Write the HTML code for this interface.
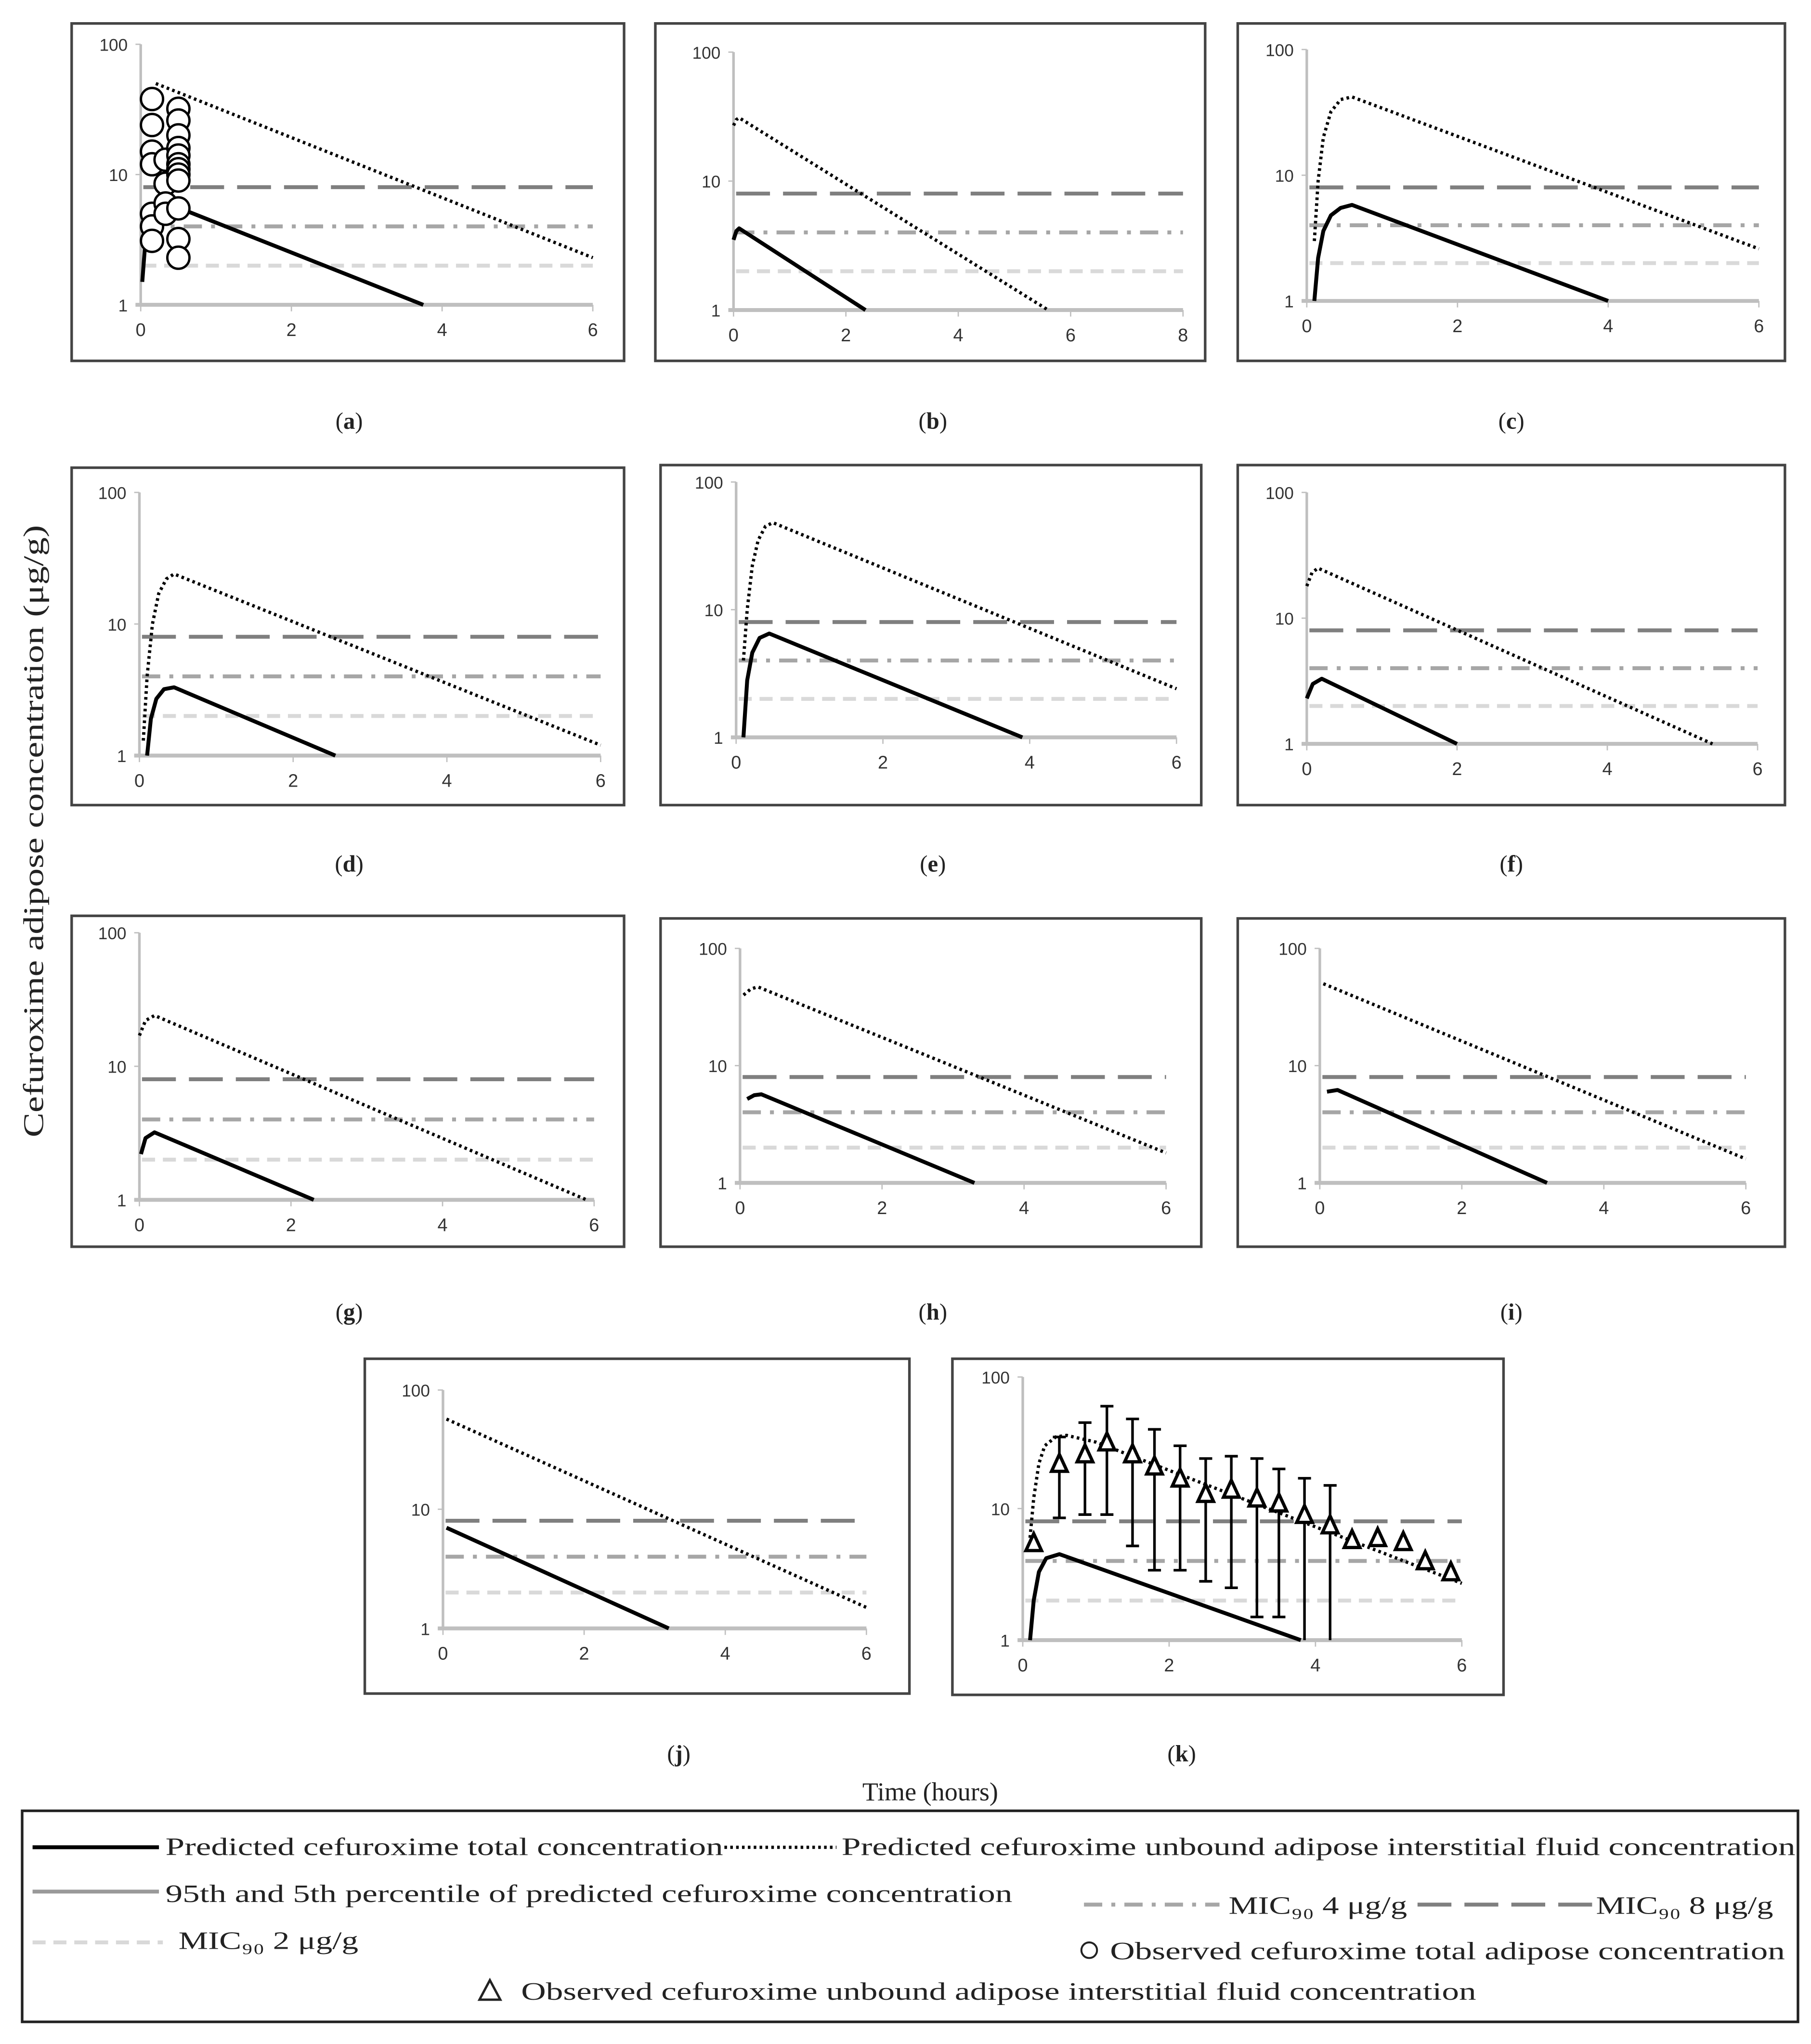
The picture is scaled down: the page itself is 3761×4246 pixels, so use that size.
<!DOCTYPE html>
<html><head><meta charset="utf-8"><style>html,body{margin:0;padding:0;background:#fff}svg{display:block}</style></head>
<body>
<svg id="fig" width="3761" height="4246" viewBox="0 0 1390 1569" preserveAspectRatio="none" xmlns="http://www.w3.org/2000/svg">
<text x="0" y="0" transform="translate(33,638) rotate(-90)" text-anchor="middle" font-family="Liberation Serif, serif" font-size="22" fill="#222" textLength="470" lengthAdjust="spacingAndGlyphs">Cefuroxime adipose concentration (μg/g)</text>
<text x="714" y="1382" text-anchor="middle" font-family="Liberation Serif, serif" font-size="20" fill="#222">Time (hours)</text>
<g font-family="Liberation Serif, serif" font-size="19" fill="#222">
<rect x="17" y="1390" width="1363" height="162" fill="none" stroke="#222" stroke-width="2"/>
<line x1="25" y1="1418" x2="122" y2="1418" stroke="#000" stroke-width="3"/>
<text x="127" y="1424" textLength="428" lengthAdjust="spacingAndGlyphs">Predicted cefuroxime total concentration</text>
<line x1="556" y1="1418" x2="642" y2="1418" stroke="#000" stroke-width="2.5" stroke-dasharray="2,2.5"/>
<text x="646" y="1424" textLength="732" lengthAdjust="spacingAndGlyphs">Predicted cefuroxime unbound adipose interstitial fluid concentration</text>
<line x1="25" y1="1452" x2="122" y2="1452" stroke="#999" stroke-width="3"/>
<text x="127" y="1460" textLength="650" lengthAdjust="spacingAndGlyphs">95th and 5th percentile of predicted cefuroxime concentration</text>
<line x1="832" y1="1462" x2="936" y2="1462" stroke="#a6a6a6" stroke-width="3" stroke-dasharray="14,7,3,7"/>
<text x="943" y="1469" textLength="137" lengthAdjust="spacingAndGlyphs">MIC₉₀ 4 μg/g</text>
<line x1="1088" y1="1462" x2="1222" y2="1462" stroke="#7f7f7f" stroke-width="3" stroke-dasharray="26,10"/>
<text x="1225" y="1469" textLength="136" lengthAdjust="spacingAndGlyphs">MIC₉₀ 8 μg/g</text>
<line x1="25" y1="1491" x2="125" y2="1491" stroke="#d9d9d9" stroke-width="3" stroke-dasharray="10,6"/>
<text x="137" y="1496" textLength="138" lengthAdjust="spacingAndGlyphs">MIC₉₀ 2 μg/g</text>
<circle cx="836" cy="1497" r="6" fill="none" stroke="#222" stroke-width="1.5"/>
<text x="852" y="1504" textLength="518" lengthAdjust="spacingAndGlyphs">Observed cefuroxime total adipose concentration</text>
<polygon points="368,1535 376,1520 384,1535" fill="none" stroke="#222" stroke-width="1.8"/>
<text x="400" y="1535" textLength="733" lengthAdjust="spacingAndGlyphs">Observed cefuroxime unbound adipose interstitial fluid concentration</text>
</g>
<g id="panels"></g>
</svg>
<script>
// panel ids
const panelIds = ['a','b','c','d','e','f','g','h','i','j','k'];
const xMaxes = [6,8,6,6,6,6,6,6,6,6,6];
const xTickLabels6 = ['0','2','4','6'];
const xTickLabels8 = ['0','2','4','6','8'];
const yTickLabels = ['1','10','100'];
const yTickValues = [1,10,100];
const micValues = [2,4,8];
// predicted total concentration (time, conc) per panel
const totalT = [[0.02,0.06,0.12,0.2,0.3,3.75],[0,0.05,0.1,2.35],[0.1,0.15,0.22,0.32,0.45,0.6,4],[0.1,0.15,0.22,0.32,0.45,2.55],[0.1,0.15,0.22,0.32,0.45,3.9],[0,0.08,0.2,2],[0.02,0.08,0.2,2.3],[0.1,0.2,0.3,3.3],[0.1,0.25,3.2],[0.05,3.2],[0.1,0.15,0.22,0.32,0.5,3.8]];
const totalC = [[1.5,3,4.8,5.8,6.2,1],[3.5,4.1,4.3,1],[1,2.2,3.6,4.8,5.5,5.8,1],[1,1.9,2.7,3.2,3.3,1],[1,2.8,4.6,6,6.5,1],[2.3,3,3.3,1],[2.2,2.9,3.2,1],[5.2,5.6,5.7,1],[6,6.2,1],[7,1],[1,2,3.3,4.2,4.5,1]];
// predicted unbound ISF concentration
const unboundT = [[0.2,6],[0,0.05,0.1,5.6],[0.1,0.15,0.22,0.32,0.45,0.6,6],[0.05,0.1,0.17,0.25,0.35,0.45,6],[0.1,0.15,0.22,0.3,0.4,0.5,6],[0,0.07,0.15,5.4],[0,0.08,0.2,5.9],[0.05,0.15,0.25,6],[0.05,6],[0.05,6],[0.1,0.15,0.22,0.3,0.45,0.6,1,6]];
const unboundC = [[50,2.3],[27,30,31,1],[3,9,20,32,40,42,2.6],[1.3,4,10,17,22,24,1.2],[4,10,22,35,45,48,2.4],[18,23,25,1],[17,22,24,1],[40,45,47,1.8],[50,1.6],[57,1.5],[6,12,22,30,35,36,32,2.7]];
// observed total (panel a circles)
const obsCircT = [0.15,0.15,0.15,0.15,0.15,0.15,0.15,0.33,0.33,0.33,0.33,0.5,0.5,0.5,0.5,0.5,0.5,0.5,0.5,0.5,0.5,0.5,0.5];
const obsCircC = [38,24,15,12,5,4,3.1,13,8.5,6,5,32,26,20,16,14,12,11,10,9,5.5,3.2,2.3];
// observed unbound (panel k triangles) with error bars
const obsTriT = [0.15,0.5,0.85,1.15,1.5,1.8,2.15,2.5,2.85,3.2,3.5,3.85,4.2,4.5,4.85,5.2,5.5,5.85];
const obsTriC = [5.5,22,26,32,26,21,17,13,14,12,11,9,7.5,5.8,6,5.6,4,3.3];
const obsTriHi = [null,35,45,60,48,40,30,24,25,24,20,17,15,null,null,null,null,null];
const obsTriLo = [null,8.5,9,9,5.2,3.4,3.4,2.8,2.5,1.5,1.5,1,1,null,null,null,null,null];

const layout = {
 a:{box:[55,18,479,277],x0:108,x1:455,y100:34,y1:234,lab:[268,323]},
 b:{box:[503,18,925,277],x0:563,x1:908,y100:40,y1:238,lab:[716,323]},
 c:{box:[950,18,1370,277],x0:1003,x1:1350,y100:38,y1:231,lab:[1160,323]},
 d:{box:[55,359,479,618],x0:107,x1:461,y100:378,y1:580,lab:[268,663]},
 e:{box:[507,357,922,618],x0:565,x1:903,y100:370,y1:566,lab:[716,663]},
 f:{box:[950,357,1370,618],x0:1003,x1:1349,y100:378,y1:571,lab:[1160,663]},
 g:{box:[55,703,479,957],x0:107,x1:456,y100:716,y1:921,lab:[268,1007]},
 h:{box:[507,705,922,957],x0:568,x1:895,y100:728,y1:908,lab:[716,1007]},
 i:{box:[950,705,1370,957],x0:1013,x1:1340,y100:728,y1:908,lab:[1160,1007]},
 j:{box:[280,1043,698,1300],x0:340,x1:665,y100:1067,y1:1250,lab:[521,1346]},
 k:{box:[731,1043,1154,1301],x0:785,x1:1122,y100:1057,y1:1259,lab:[907,1346]}
};
const NS='http://www.w3.org/2000/svg';
const root=document.getElementById('panels');
function mk(tag,attrs,parent){const e=document.createElementNS(NS,tag);for(const k in attrs)e.setAttribute(k,attrs[k]);parent.appendChild(e);return e;}

panelIds.forEach((id,pi)=>{
 const L=layout[id], xm=xMaxes[pi];
 const X=t=>L.x0+(L.x1-L.x0)*t/xm;
 const Y=v=>L.y1-(L.y1-L.y100)*Math.log10(v)/2;
 const g=mk('g',{},root);
 
 
 const b=L.box;
 const box=mk('rect',{x:b[0],y:b[1],width:b[2]-b[0],height:b[3]-b[1],fill:'none',stroke:'#444',"stroke-width":2},g);
 
 
 const ya=mk('line',{x1:L.x0,y1:L.y100,x2:L.x0,y2:L.y1,stroke:'#bfbfbf',"stroke-width":2},g);
 
 
 const xa=mk('line',{x1:L.x0-4,y1:L.y1,x2:L.x1,y2:L.y1,stroke:'#bfbfbf',"stroke-width":3},g);
 
 
 yTickValues.forEach((v,i)=>{
  const tk=mk('line',{x1:L.x0-4,y1:Y(v),x2:L.x0,y2:Y(v),stroke:'#bfbfbf',"stroke-width":1},g);
  
  
  const t=mk('text',{x:L.x0-10,y:Y(v)+5,"text-anchor":"end","font-family":"Liberation Sans, sans-serif","font-size":13,fill:'#333'},g);
  t.textContent=yTickLabels[i];
  
  
 });
 const xl = xm===8?xTickLabels8:xTickLabels6;
 xl.forEach(s=>{
  const v=+s;
  const tk=mk('line',{x1:X(v),y1:L.y1,x2:X(v),y2:L.y1+5,stroke:'#bfbfbf',"stroke-width":1},g);
  
  
  const t=mk('text',{x:X(v),y:L.y1+24,"text-anchor":"middle","font-family":"Liberation Sans, sans-serif","font-size":14,fill:'#333'},g);
  t.textContent=s;
  
  
 });
 const micStyle={2:['#d9d9d9','10,6'],4:['#a6a6a6','14,7,3,7'],8:['#7f7f7f','26,10']};
 micValues.forEach(m=>{
  const ln=mk('line',{x1:L.x0+2,y1:Y(m),x2:L.x1,y2:Y(m),stroke:micStyle[m][0],"stroke-width":3,"stroke-dasharray":micStyle[m][1]},g);
  
  
 });
 const pts=(T,C)=>T.map((t,i)=>X(t).toFixed(1)+','+Y(C[i]).toFixed(1)).join(' ');
 const ub=mk('polyline',{points:pts(unboundT[pi],unboundC[pi]),fill:'none',stroke:'#000',"stroke-width":2.5,"stroke-dasharray":"2,2.5","stroke-linejoin":"round"},g);
 
 
 const tl=mk('polyline',{points:pts(totalT[pi],totalC[pi]),fill:'none',stroke:'#000',"stroke-width":3,"stroke-linejoin":"round"},g);
 
 
 if(id==='a'){
  obsCircT.forEach((t,i)=>{
   const c=mk('circle',{cx:X(t),cy:Y(obsCircC[i]),r:8.5,fill:'#fff',stroke:'#000',"stroke-width":1.8},g);
   
   
  });
 }
 if(id==='k'){
  obsTriT.forEach((t,i)=>{
   const x=X(t);
   if(obsTriHi[i]!==null){
    const e=mk('path',{d:`M${x},${Y(obsTriHi[i])}V${Y(obsTriLo[i])}M${x-5},${Y(obsTriHi[i])}h10`+(obsTriLo[i]>1?`M${x-5},${Y(obsTriLo[i])}h10`:''),stroke:'#000',"stroke-width":2,fill:'none'},g);
    
    
   }
   const y=Y(obsTriC[i]);
   const p=mk('polygon',{points:`${x-6},${y+6} ${x},${y-7} ${x+6},${y+6}`,fill:'#fff',stroke:'#000',"stroke-width":2.5},g);
   
   
  });
 }
 const lab=mk('text',{x:L.lab[0],y:L.lab[1]+6,"text-anchor":"middle","font-family":"Liberation Serif, serif","font-size":18,fill:'#222'},g);
 lab.innerHTML='(<tspan font-weight="bold">'+id+'</tspan>)';
 
 
});
</script>
</body></html>
